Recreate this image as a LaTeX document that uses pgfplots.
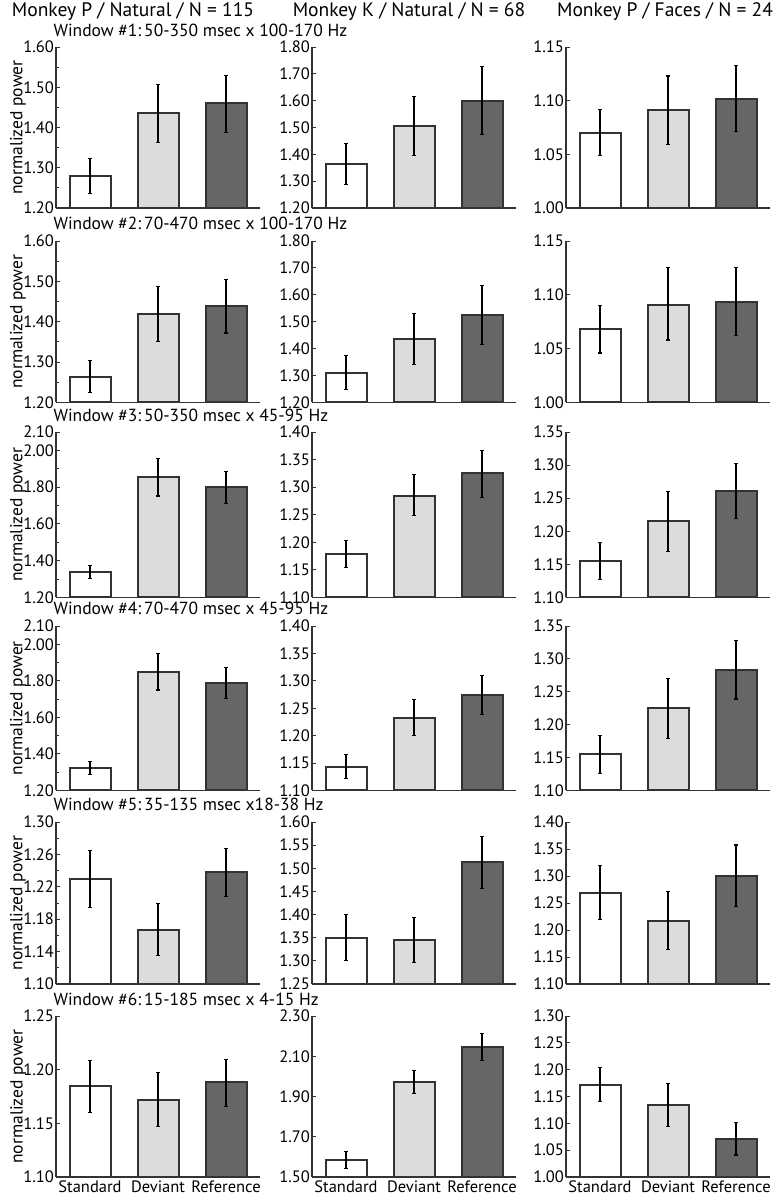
\documentclass[border=0pt]{standalone}
\usepackage{fontspec}
\setmainfont{PT Sans}
\usepackage{pgfplots}
\pgfplotsset{compat=1.18}
\definecolor{edge}{HTML}{333333}
\definecolor{lgray}{HTML}{DCDCDC}
\definecolor{dgray}{HTML}{666666}
\newcommand\tickfont{\fontsize{16.5}{17}\selectfont}
\newcommand\titlefont{\fontsize{17.5}{18}\selectfont}
\newcommand\coltitlefont{\fontsize{19.5}{20}\selectfont}
\pgfplotsset{
  panel/.style={
    scale only axis, width=204pt,
    xmin=0.5, xmax=3.5, xtick=\empty,
    axis x line*=bottom, axis y line*=left,
    axis line style={edge, line width=1.2pt},
    tick align=inside, major tick length=4pt, minor tick length=2.5pt,
    every tick/.style={edge, line width=0.9pt},
    yticklabel style={font=\tickfont, inner sep=2pt},
    xticklabel style={font=\tickfont},
    y tick label style={/pgf/number format/.cd, fixed, fixed zerofill, precision=2, assume math mode=true},
    anchor=south west,
  },
  barS/.style={ybar, bar width=41pt, fill=white, draw=edge, line width=2pt,
    error bars/y dir=both, error bars/y explicit,
    error bars/error bar style={black, line width=1.1pt},
    error bars/error mark options={black, rotate=90, mark size=1.6pt, line width=1.1pt}},
  barD/.style={barS, fill=lgray},
  barR/.style={barS, fill=dgray},
  ylab/.style={ylabel={normalized power}, ylabel style={font=\titlefont, at={(axis description cs:-0.186,0.5)}, anchor=center}},
}
% \bars{S}{S+}{S-}{D}{D+}{D-}{R}{R+}{R-}
\newcommand\bars[9]{%
  \addplot[barS] coordinates {(1,#1) += (0,#2) -= (0,#3)};
  \addplot[barD] coordinates {(2,#4) += (0,#5) -= (0,#6)};
  \addplot[barR] coordinates {(3,#7) += (0,#8) -= (0,#9)};
}
\begin{document}
\begin{tikzpicture}
\useasboundingbox (0pt,0pt) rectangle (778pt,1199pt);
% column titles
\node[font=\coltitlefont] at (133pt,1187pt) {Monkey P / Natural / N = 115};
\node[font=\coltitlefont] at (409pt,1187pt) {Monkey K / Natural / N = 68};
\node[font=\coltitlefont] at (665pt,1187pt) {Monkey P / Faces / N = 24};
% window titles
\node[font=\titlefont, anchor=west] at (50pt,1169pt) {Window \#1:\,50-350 msec x 100-170 Hz};
\node[font=\titlefont, anchor=west] at (50pt,976pt) {Window \#2:\,70-470 msec x 100-170 Hz};
\node[font=\titlefont, anchor=west] at (50pt,784pt) {Window \#3:\,50-350 msec x 45-95 Hz};
\node[font=\titlefont, anchor=west] at (50pt,591pt) {Window \#4:\,70-470 msec x 45-95 Hz};
\node[font=\titlefont, anchor=west] at (50pt,395pt) {Window \#5:\,35-135 msec x18-38 Hz};
\node[font=\titlefont, anchor=west] at (50pt,200pt) {Window \#6:\,15-185 msec x 4-15 Hz};

% ---------------- Row 1 ----------------
\begin{axis}[panel, ylab, at={(56pt,991pt)}, height=161pt, ymin=1.2, ymax=1.6,
  ytick={1.2,1.3,1.4,1.5,1.6}, minor ytick={1.25,1.35,1.45,1.55}]
\bars{1.28}{0.043}{0.043}{1.435}{0.072}{0.073}{1.46}{0.070}{0.072}
\end{axis}
\begin{axis}[panel, at={(312pt,991pt)}, height=161pt, ymin=1.2, ymax=1.8,
  ytick={1.2,1.3,1.4,1.5,1.6,1.7,1.8}]
\bars{1.365}{0.075}{0.077}{1.505}{0.110}{0.110}{1.60}{0.127}{0.125}
\end{axis}
\begin{axis}[panel, at={(566pt,991pt)}, height=161pt, ymin=1.0, ymax=1.15,
  ytick={1.0,1.05,1.1,1.15}]
\bars{1.070}{0.022}{0.021}{1.091}{0.032}{0.032}{1.102}{0.031}{0.031}
\end{axis}

% ---------------- Row 2 ----------------
\begin{axis}[panel, ylab, at={(56pt,796.5pt)}, height=161.5pt, ymin=1.2, ymax=1.6,
  ytick={1.2,1.3,1.4,1.5,1.6}, minor ytick={1.25,1.35,1.45,1.55}]
\bars{1.264}{0.040}{0.040}{1.419}{0.069}{0.068}{1.438}{0.067}{0.066}
\end{axis}
\begin{axis}[panel, at={(312pt,796.5pt)}, height=161.5pt, ymin=1.2, ymax=1.8,
  ytick={1.2,1.3,1.4,1.5,1.6,1.7,1.8}]
\bars{1.310}{0.063}{0.062}{1.435}{0.094}{0.095}{1.525}{0.110}{0.108}
\end{axis}
\begin{axis}[panel, at={(566pt,796.5pt)}, height=161.5pt, ymin=1.0, ymax=1.15,
  ytick={1.0,1.05,1.1,1.15}]
\bars{1.068}{0.022}{0.022}{1.091}{0.034}{0.033}{1.093}{0.032}{0.031}
\end{axis}

% ---------------- Row 3 ----------------
\begin{axis}[panel, ylab, at={(56pt,601.5pt)}, height=165.5pt, ymin=1.2, ymax=2.1,
  ytick={1.2,1.4,1.6,1.8,2.0,2.1}, minor ytick={1.3,1.5,1.7,1.9}]
\bars{1.337}{0.037}{0.036}{1.855}{0.103}{0.103}{1.800}{0.085}{0.088}
\end{axis}
\begin{axis}[panel, at={(312pt,601.5pt)}, height=165.5pt, ymin=1.1, ymax=1.4,
  ytick={1.1,1.15,1.2,1.25,1.3,1.35,1.4}]
\bars{1.179}{0.025}{0.025}{1.284}{0.039}{0.035}{1.325}{0.042}{0.043}
\end{axis}
\begin{axis}[panel, at={(566pt,601.5pt)}, height=165.5pt, ymin=1.1, ymax=1.35,
  ytick={1.1,1.15,1.2,1.25,1.3,1.35}]
\bars{1.155}{0.028}{0.028}{1.215}{0.045}{0.045}{1.261}{0.042}{0.042}
\end{axis}

% ---------------- Row 4 ----------------
\begin{axis}[panel, ylab, at={(56pt,408.5pt)}, height=164.5pt, ymin=1.2, ymax=2.1,
  ytick={1.2,1.4,1.6,1.8,2.0,2.1}, minor ytick={1.3,1.5,1.7,1.9}]
\bars{1.322}{0.037}{0.036}{1.850}{0.100}{0.100}{1.790}{0.085}{0.085}
\end{axis}
\begin{axis}[panel, at={(312pt,408.5pt)}, height=164.5pt, ymin=1.1, ymax=1.4,
  ytick={1.1,1.15,1.2,1.25,1.3,1.35,1.4}]
\bars{1.1435}{0.022}{0.022}{1.233}{0.033}{0.032}{1.275}{0.035}{0.036}
\end{axis}
\begin{axis}[panel, at={(566pt,408.5pt)}, height=164.5pt, ymin=1.1, ymax=1.35,
  ytick={1.1,1.15,1.2,1.25,1.3,1.35}]
\bars{1.155}{0.029}{0.029}{1.225}{0.045}{0.046}{1.283}{0.045}{0.044}
\end{axis}

% ---------------- Row 5 ----------------
\begin{axis}[panel, ylab, at={(56pt,215pt)}, height=162pt, ymin=1.1, ymax=1.3,
  ytick={1.1,1.14,1.18,1.22,1.26,1.3}, minor ytick={1.12,1.16,1.2,1.24,1.28}]
\bars{1.2295}{0.035}{0.035}{1.167}{0.032}{0.032}{1.2377}{0.030}{0.030}
\end{axis}
\begin{axis}[panel, at={(312pt,215pt)}, height=162pt, ymin=1.25, ymax=1.6,
  ytick={1.25,1.3,1.35,1.4,1.45,1.5,1.55,1.6}]
\bars{1.350}{0.051}{0.049}{1.345}{0.049}{0.049}{1.513}{0.055}{0.057}
\end{axis}
\begin{axis}[panel, at={(566pt,215pt)}, height=162pt, ymin=1.1, ymax=1.4,
  ytick={1.1,1.15,1.2,1.25,1.3,1.35,1.4}]
\bars{1.2694}{0.050}{0.050}{1.2175}{0.053}{0.054}{1.3004}{0.057}{0.057}
\end{axis}

% ---------------- Row 6 ----------------
\begin{axis}[panel, ylab, at={(56pt,22pt)}, height=161pt, ymin=1.1, ymax=1.25,
  ytick={1.1,1.15,1.2,1.25},
  xtick={1,2,3}, xticklabels={Standard,Deviant,Reference}, major x tick style={draw=none}]
\bars{1.1845}{0.024}{0.024}{1.172}{0.025}{0.025}{1.1888}{0.021}{0.023}
\end{axis}
\begin{axis}[panel, at={(312pt,22pt)}, height=161pt, ymin=1.5, ymax=2.3,
  ytick={1.5,1.7,1.9,2.1,2.3},
  xtick={1,2,3}, xticklabels={Standard,Deviant,Reference}, major x tick style={draw=none}]
\bars{1.5845}{0.043}{0.043}{1.974}{0.056}{0.058}{2.148}{0.064}{0.067}
\end{axis}
\begin{axis}[panel, at={(566pt,22pt)}, height=161pt, ymin=1.0, ymax=1.3,
  ytick={1.0,1.05,1.1,1.15,1.2,1.25,1.3},
  xtick={1,2,3}, xticklabels={Standard,Deviant,Reference}, major x tick style={draw=none}]
\bars{1.172}{0.032}{0.032}{1.1335}{0.0415}{0.0397}{1.070}{0.031}{0.029}
\end{axis}
\end{tikzpicture}
\end{document}
